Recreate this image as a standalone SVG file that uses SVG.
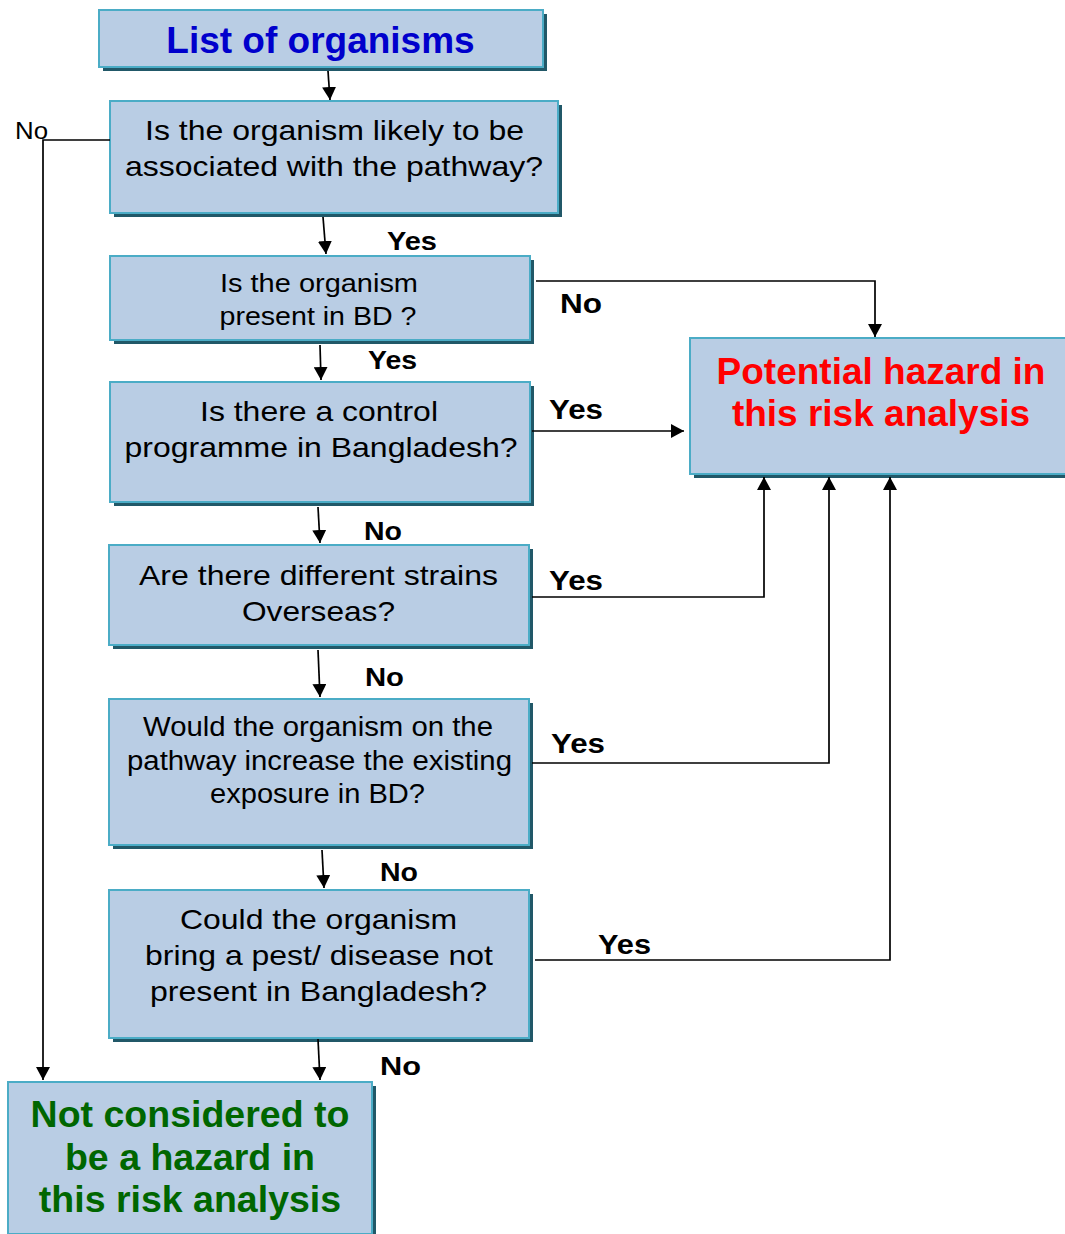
<svg xmlns="http://www.w3.org/2000/svg" width="1065" height="1234" viewBox="0 0 1065 1234">
<defs>
<marker id="arr" viewBox="0 0 13 14" refX="13" refY="7" markerWidth="13" markerHeight="14" markerUnits="userSpaceOnUse" orient="auto">
<path d="M0,0 L13,7 L0,14 z" fill="#000"/>
</marker>
<style>
.box{fill:#b9cde4;stroke:#4bacc6;stroke-width:2}
.sh{fill:#215868}
.q{font-family:"Liberation Sans",Arial,sans-serif;font-size:28px;fill:#000;text-anchor:middle}
.lbl{font-family:"Liberation Sans",Arial,sans-serif;font-size:26px;font-weight:bold;fill:#000}
.big{font-family:"Liberation Sans",Arial,sans-serif;font-weight:bold;text-anchor:middle}
.c{fill:none;stroke:#000;stroke-width:1.7}
</style>
</defs>
<rect width="1065" height="1234" fill="#fff"/>
<g id="n0">
<rect class="sh" x="103" y="14" width="444" height="57"/>
<rect class="box" x="99" y="10" width="444" height="57"/>
<text class="big" x="320.5" y="53" style="font-size:37px;fill:#0000cc">List of organisms</text>
</g>
<g id="n1">
<rect class="sh" x="114" y="105" width="448" height="112"/>
<rect class="box" x="110" y="101" width="448" height="112"/>
<text class="q" x="334.5" y="140" textLength="379" lengthAdjust="spacingAndGlyphs">Is the organism likely to be</text>
<text class="q" x="334" y="176" textLength="418" lengthAdjust="spacingAndGlyphs">associated with the pathway?</text>
</g>
<g id="n2">
<rect class="sh" x="114" y="260" width="420" height="84"/>
<rect class="box" x="110" y="256" width="420" height="84"/>
<text class="q" x="319" y="292" style="font-size:26px" textLength="198" lengthAdjust="spacingAndGlyphs">Is the organism</text>
<text class="q" x="318" y="325" style="font-size:26px" textLength="197" lengthAdjust="spacingAndGlyphs">present in BD ?</text>
</g>
<g id="n3">
<rect class="sh" x="114" y="386" width="420" height="120"/>
<rect class="box" x="110" y="382" width="420" height="120"/>
<text class="q" x="319" y="421" textLength="238" lengthAdjust="spacingAndGlyphs">Is there a control</text>
<text class="q" x="321" y="457" textLength="393" lengthAdjust="spacingAndGlyphs">programme in Bangladesh?</text>
</g>
<g id="n4">
<rect class="sh" x="113" y="549" width="420" height="100"/>
<rect class="box" x="109" y="545" width="420" height="100"/>
<text class="q" x="318.5" y="585" textLength="359" lengthAdjust="spacingAndGlyphs">Are there different strains</text>
<text class="q" x="318.5" y="621" textLength="153" lengthAdjust="spacingAndGlyphs">Overseas?</text>
</g>
<g id="n5">
<rect class="sh" x="113" y="703" width="420" height="146"/>
<rect class="box" x="109" y="699" width="420" height="146"/>
<text class="q" x="318" y="736" style="font-size:27px" textLength="350" lengthAdjust="spacingAndGlyphs">Would the organism on the</text>
<text class="q" x="319.5" y="770" style="font-size:27px" textLength="385" lengthAdjust="spacingAndGlyphs">pathway increase the existing</text>
<text class="q" x="317.5" y="803" style="font-size:27px" textLength="215" lengthAdjust="spacingAndGlyphs">exposure in BD?</text>
</g>
<g id="n6">
<rect class="sh" x="113" y="894" width="420" height="148"/>
<rect class="box" x="109" y="890" width="420" height="148"/>
<text class="q" x="318.5" y="929" textLength="277" lengthAdjust="spacingAndGlyphs">Could the organism</text>
<text class="q" x="319" y="965" textLength="348" lengthAdjust="spacingAndGlyphs">bring a pest/ disease not</text>
<text class="q" x="318.5" y="1001" textLength="337" lengthAdjust="spacingAndGlyphs">present in Bangladesh?</text>
</g>
<g id="n7">
<rect class="sh" x="694" y="342" width="380" height="136"/>
<rect class="box" x="690" y="338" width="380" height="136"/>
<text class="big" x="881" y="384" style="font-size:37px;fill:#ff0000">Potential hazard in</text>
<text class="big" x="881" y="426" style="font-size:37px;fill:#ff0000">this risk analysis</text>
</g>
<g id="n8">
<rect class="sh" x="12" y="1086" width="364" height="152"/>
<rect class="box" x="8" y="1082" width="364" height="152"/>
<text class="big" x="190" y="1127" style="font-size:37.5px;fill:#006600">Not considered to</text>
<text class="big" x="190" y="1170" style="font-size:37.5px;fill:#006600">be a hazard in</text>
<text class="big" x="190" y="1212" style="font-size:37.5px;fill:#006600">this risk analysis</text>
</g>
<g id="connectors">
<path class="c" d="M328,71 L330,100" marker-end="url(#arr)"/>
<path class="c" d="M323,217 L326,254" marker-end="url(#arr)"/>
<path class="c" d="M320,345 L321,380" marker-end="url(#arr)"/>
<path class="c" d="M318,507 L320,543" marker-end="url(#arr)"/>
<path class="c" d="M318,650 L320,697" marker-end="url(#arr)"/>
<path class="c" d="M322,850 L324,888" marker-end="url(#arr)"/>
<path class="c" d="M318,1039 L320,1080" marker-end="url(#arr)"/>
<path class="c" d="M110,140 L43,140 L43,1080" marker-end="url(#arr)"/>
<path class="c" d="M536,281 L875,281 L875,337" marker-end="url(#arr)"/>
<path class="c" d="M532,431 L684,431" marker-end="url(#arr)"/>
<path class="c" d="M532,597 L764,597 L764,477" marker-end="url(#arr)"/>
<path class="c" d="M532,763 L829,763 L829,477" marker-end="url(#arr)"/>
<path class="c" d="M535,960 L890,960 L890,477" marker-end="url(#arr)"/>
<text x="15" y="139" style="font-family:'Liberation Sans',Arial,sans-serif;font-size:24px;fill:#000" textLength="33" lengthAdjust="spacingAndGlyphs">No</text>
<text class="lbl" x="387" y="250" textLength="50" lengthAdjust="spacingAndGlyphs">Yes</text>
<text class="lbl" x="368" y="369" textLength="49" lengthAdjust="spacingAndGlyphs">Yes</text>
<text class="lbl" x="364" y="540" textLength="38" lengthAdjust="spacingAndGlyphs">No</text>
<text class="lbl" x="365" y="686" textLength="39" lengthAdjust="spacingAndGlyphs">No</text>
<text class="lbl" x="380" y="881" textLength="38" lengthAdjust="spacingAndGlyphs">No</text>
<text class="lbl" x="380" y="1075" textLength="41" lengthAdjust="spacingAndGlyphs">No</text>
<text class="lbl" x="560" y="313" style="font-size:28px" textLength="42" lengthAdjust="spacingAndGlyphs">No</text>
<text class="lbl" x="549" y="419" style="font-size:28px" textLength="54" lengthAdjust="spacingAndGlyphs">Yes</text>
<text class="lbl" x="549" y="590" style="font-size:28px" textLength="54" lengthAdjust="spacingAndGlyphs">Yes</text>
<text class="lbl" x="551" y="753" style="font-size:28px" textLength="54" lengthAdjust="spacingAndGlyphs">Yes</text>
<text class="lbl" x="598" y="954" style="font-size:28px" textLength="53" lengthAdjust="spacingAndGlyphs">Yes</text>
</g>
</svg>
